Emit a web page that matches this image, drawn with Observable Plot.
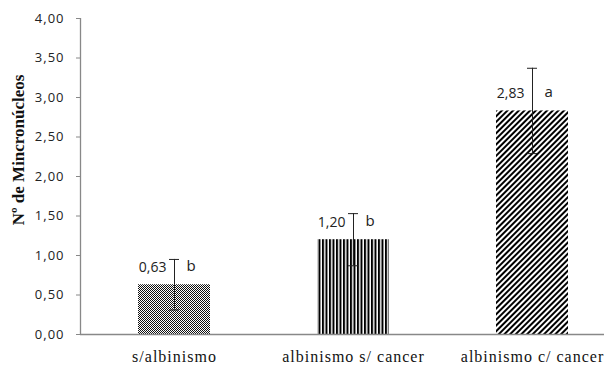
<!DOCTYPE html>
<html>
<head>
<meta charset="utf-8">
<script src="https://cdn.jsdelivr.net/npm/d3@7"></script>
<script src="https://cdn.jsdelivr.net/npm/@observablehq/plot@0.6"></script>
<style>
  html, body { margin: 0; padding: 0; background: #fff; overflow: hidden; }
  #chart { width: 604px; height: 365px; overflow: hidden; }
  #chart svg { display: block; background: #fff; max-width: none !important; }
  #chart g[aria-label="y-axis tick label"] text { font-family: "Open Sans", sans-serif !important; font-size: 13px; letter-spacing: 1px; fill: #222; }
  #chart g[aria-label="x-axis tick label"] text { font-family: "Liberation Serif", "Times New Roman", serif !important; font-size: 16px; letter-spacing: 1px; fill: #111; }
</style>
</head>
<body>
<div id="chart"></div>
<script>
const categories = ["s/albinismo", "albinismo s/ cancer", "albinismo c/ cancer"];
const means = [0.63, 1.20, 2.83];
const errors = [0.32, 0.33, 0.54];
const letters = ["b", "b", "a"];
const yTicks = [0, 0.5, 1, 1.5, 2, 2.5, 3, 3.5, 4];
const yTitle = "Nº de Mincronúcleos";

const data = categories.map((c, i) => ({cat: c, mean: means[i], err: errors[i], letter: letters[i]}));
const patternIds = ["pat-checker", "pat-vstripes", "pat-diag"];
const fmt = v => d3.format(".2f")(v).replace(".", ",");

const plot = Plot.plot({
  width: 630,
  height: 365,
  marginLeft: 80,
  marginRight: 4,
  marginTop: 18,
  marginBottom: 31,
  style: {maxWidth: "none"},
  x: {domain: categories, paddingInner: 0.6, paddingOuter: 0.32, label: null},
  y: {domain: [0, 4], label: null},
  marks: [
    Plot.axisY({ticks: yTicks, tickFormat: fmt, tickSize: 4, tickPadding: 12, stroke: "#888", label: null,
      fontFamily: "Open Sans, sans-serif"}),
    Plot.axisX({tickSize: 0, tickPadding: 16, label: null, fontFamily: "Liberation Serif, serif"}),
    ...data.map((d, i) => Plot.barY([d], {x: "cat", y: "mean", fill: `url(#${patternIds[i]})`})),
    Plot.ruleY([0], {stroke: "#888", strokeWidth: 1.3}),
    Plot.ruleX(data, {x: "cat", y1: d => d.mean - d.err, y2: d => d.mean + d.err, stroke: "#222", strokeWidth: 1}),
    Plot.tickY(data, {x: "cat", y: d => d.mean + d.err, stroke: "#222", insetLeft: 31, insetRight: 31}),
    Plot.tickY(data, {x: "cat", y: d => d.mean - d.err, stroke: "#222", insetLeft: 31, insetRight: 31}),
    Plot.text(data, {x: "cat", y: "mean", text: d => fmt(d.mean), textAnchor: "end", dx: -8, dy: -17,
      fontFamily: "Open Sans, sans-serif", fontSize: 14, fill: "#222"}),
    Plot.text(data, {x: "cat", y: "mean", text: "letter", textAnchor: "start", dx: 12, dy: -19,
      fontFamily: "Open Sans, sans-serif", fontSize: 15, fill: "#222"})
  ]
});

const svg = d3.select(plot);
const defs = svg.insert("defs", ":first-child");
// checker
const p1 = defs.append("pattern").attr("id", "pat-checker").attr("patternUnits", "userSpaceOnUse").attr("width", 2).attr("height", 2);
p1.append("rect").attr("width", 2).attr("height", 2).attr("fill", "#fff");
p1.append("rect").attr("width", 1).attr("height", 1).attr("fill", "#111");
p1.append("rect").attr("x", 1).attr("y", 1).attr("width", 1).attr("height", 1).attr("fill", "#111");
// vertical stripes
const p2 = defs.append("pattern").attr("id", "pat-vstripes").attr("patternUnits", "userSpaceOnUse").attr("width", 3.5).attr("height", 4);
p2.append("rect").attr("width", 3.5).attr("height", 4).attr("fill", "#fff");
p2.append("rect").attr("width", 2).attr("height", 4).attr("fill", "#000");
// diagonal stripes
const p3 = defs.append("pattern").attr("id", "pat-diag").attr("patternUnits", "userSpaceOnUse").attr("width", 4).attr("height", 4).attr("patternTransform", "rotate(45)");
p3.append("rect").attr("width", 4).attr("height", 4).attr("fill", "#fff");
p3.append("rect").attr("width", 2).attr("height", 4).attr("fill", "#000");

// y-axis line using the plot's scales
const xs = plot.scale("x"), ys = plot.scale("y");
const x0 = xs.range[0] + 0.5;
svg.append("line")
  .attr("x1", x0).attr("x2", x0)
  .attr("y1", ys.apply(0)).attr("y2", ys.apply(4))
  .attr("stroke", "#888").attr("stroke-width", 1.3);

// y-axis title
svg.append("text")
  .attr("transform", `translate(18,${ys.apply(2.33)}) rotate(-90)`)
  .attr("text-anchor", "middle")
  .attr("dy", "0.35em")
  .attr("font-family", "Liberation Serif, serif")
  .attr("font-weight", "bold")
  .attr("font-size", 17)
  .attr("fill", "#111")
  .text(yTitle);

document.getElementById("chart").append(plot);
</script>
</body>
</html>
